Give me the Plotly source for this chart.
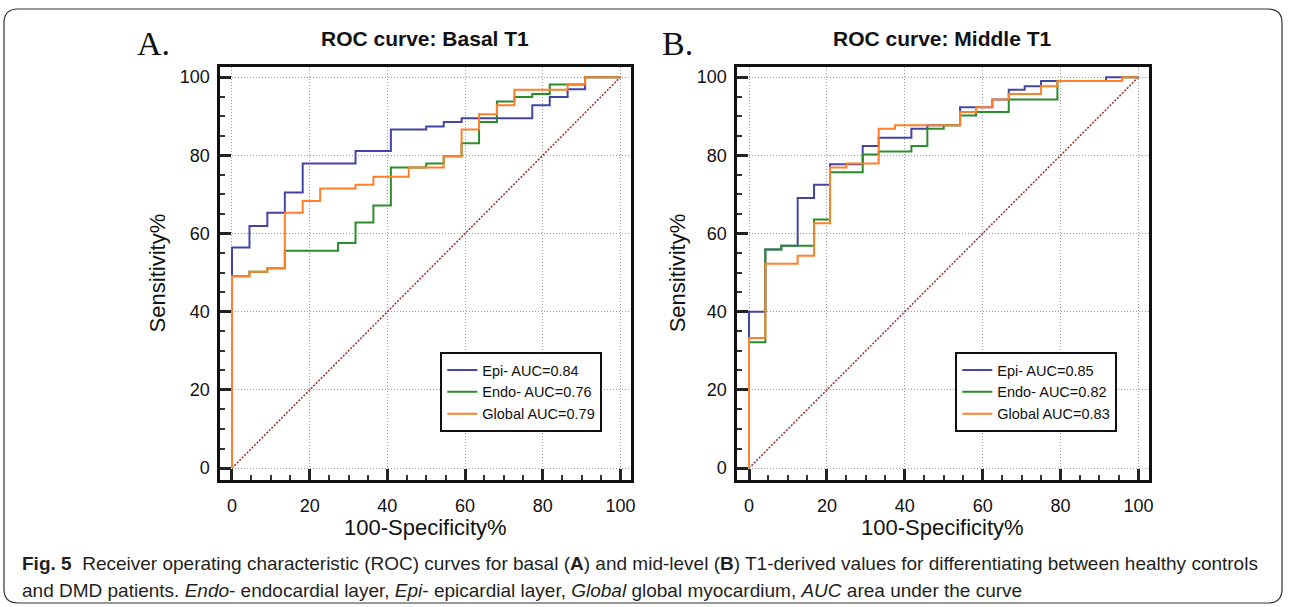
import plotly.graph_objects as go

# ROC operating points (100-Specificity%, Sensitivity%)
# A. basal T1
basal_epi_fpr = [0, 0, 4.5, 9.1, 13.6, 18.2, 31.8, 40.9, 50.0, 54.5, 59.1, 77.3, 81.8, 86.4, 90.9, 100]
basal_epi_tpr = [0, 56.4, 61.9, 65.3, 70.5, 77.9, 81.1, 86.6, 87.4, 88.5, 89.5, 92.8, 94.9, 96.9, 100, 100]

basal_endo_fpr = [0, 0, 4.5, 9.1, 13.6, 27.3, 31.8, 36.4, 40.9, 50.0, 54.5, 59.1, 63.6, 68.2, 72.7, 77.3, 81.8, 90.9, 100]
basal_endo_tpr = [0, 49.1, 50.2, 51.1, 55.6, 57.6, 62.8, 67.2, 76.9, 77.9, 79.8, 83.1, 88.5, 93.8, 94.9, 95.7, 98.1, 100, 100]

basal_glob_fpr = [0, 0, 4.5, 9.1, 13.6, 18.2, 22.7, 31.8, 36.4, 45.5, 54.5, 59.1, 63.6, 68.2, 72.7, 86.4, 90.9, 100]
basal_glob_tpr = [0, 49.1, 50.2, 51.1, 65.3, 68.3, 71.5, 72.5, 74.5, 76.9, 79.8, 86.6, 90.5, 92.8, 96.8, 98.1, 100, 100]

# B. middle T1
mid_epi_fpr = [0, 0, 4.2, 8.3, 12.5, 16.7, 20.8, 29.2, 33.3, 41.7, 45.8, 54.2, 62.5, 66.7, 70.8, 75.0, 91.7, 100]
mid_epi_tpr = [0, 40.0, 55.9, 56.9, 69.1, 72.5, 77.7, 82.4, 84.5, 86.8, 87.7, 92.3, 94.3, 96.8, 97.7, 99.0, 100, 100]

mid_endo_fpr = [0, 0, 4.2, 8.3, 16.7, 20.8, 29.2, 33.3, 41.7, 45.8, 50.0, 54.2, 58.3, 66.7, 79.2, 95.8, 100]
mid_endo_tpr = [0, 32.2, 55.9, 56.9, 63.6, 75.7, 80.2, 81.0, 82.4, 86.8, 87.7, 90.2, 91.1, 94.3, 99.0, 100, 100]

mid_glob_fpr = [0, 0, 4.2, 12.5, 16.7, 20.8, 25.0, 33.3, 37.5, 54.2, 58.3, 62.5, 66.7, 75.0, 79.2, 95.8, 100]
mid_glob_tpr = [0, 33.3, 52.3, 54.3, 62.6, 76.9, 77.9, 86.8, 87.7, 91.1, 92.3, 94.3, 95.7, 97.7, 99.0, 100, 100]

basal_auc = {"Epi-": 0.84, "Endo-": 0.76, "Global": 0.79}
mid_auc = {"Epi-": 0.85, "Endo-": 0.82, "Global": 0.83}

ticks = [0, 20, 40, 60, 80, 100]
ref_line = [0, 100]

colors = {"Epi-": "#4444a6", "Endo-": "#2a8c2a", "Global": "#ff7f2a"}

W, H = 1290, 607


def px_x(p):
    return p / W


def px_y(p):
    return 1 - p / H


fig = go.Figure()

panels = [
    ("x", "y", "legend", basal_auc,
     [(basal_epi_fpr, basal_epi_tpr), (basal_endo_fpr, basal_endo_tpr), (basal_glob_fpr, basal_glob_tpr)]),
    ("x2", "y2", "legend2", mid_auc,
     [(mid_epi_fpr, mid_epi_tpr), (mid_endo_fpr, mid_endo_tpr), (mid_glob_fpr, mid_glob_tpr)]),
]

for xa, ya, leg, auc, curves in panels:
    fig.add_trace(go.Scatter(x=ref_line, y=ref_line, mode="lines", xaxis=xa, yaxis=ya,
                             line=dict(color="#9a3030", width=1.5, dash="2px,1.5px"),
                             showlegend=False, hoverinfo="skip"))
    for (name, a), (fx, ty) in zip(auc.items(), curves):
        fig.add_trace(go.Scatter(x=fx, y=ty, mode="lines", line_shape="hv", xaxis=xa, yaxis=ya,
                                 name=f"{name} AUC={a:.2f}", legend=leg,
                                 line=dict(color=colors[name], width=2)))

axis_common = dict(
    range=[-3.05, 102.6], tickvals=ticks, showgrid=True, gridcolor="#9a9a9a", griddash="1px,2px",
    gridwidth=1, zeroline=False, showline=True, linecolor="#111", linewidth=2.5, mirror=True,
    ticks="inside", ticklen=11, tickwidth=3, tickcolor="#222",
    minor=dict(dtick=5, tick0=0, ticks="inside", ticklen=5, tickwidth=2, tickcolor="#333", showgrid=False),
    tickfont=dict(family="Liberation Sans, Arial", size=18, color="#111"),
    fixedrange=True,
)

ydom = [px_y(480), px_y(67)]
fig.update_layout(
    width=W, height=H, margin=dict(l=0, r=0, t=0, b=0),
    paper_bgcolor="white", plot_bgcolor="white",
    xaxis=dict(domain=[px_x(221), px_x(633)], anchor="y", ticklabelstandoff=8, **axis_common),
    yaxis=dict(domain=ydom, anchor="x", ticklabelstandoff=4, **axis_common),
    xaxis2=dict(domain=[px_x(740), px_x(1153)], anchor="y2", ticklabelstandoff=8, **axis_common),
    yaxis2=dict(domain=ydom, anchor="x2", ticklabelstandoff=4, **axis_common),
)

legend_common = dict(
    xanchor="left", yanchor="top", bgcolor="white", bordercolor="#111", borderwidth=2,
    font=dict(family="Liberation Sans, Arial", size=14.5, color="#111"),
    tracegroupgap=0, itemwidth=30,
)
fig.update_layout(
    legend=dict(x=px_x(442), y=px_y(352), **legend_common),
    legend2=dict(x=px_x(959), y=px_y(352), **legend_common),
)

ann = []
title_font = dict(family="Liberation Sans, Arial", size=21, color="#111")
axis_font = dict(family="Liberation Sans, Arial", size=22, color="#111")
ann.append(dict(text="<b>ROC curve: Basal T1</b>", x=px_x(427), y=px_y(38), font=title_font))
ann.append(dict(text="<b>ROC curve: Middle T1</b>", x=px_x(946), y=px_y(38), font=title_font))
ann.append(dict(text="A.", x=px_x(154), y=px_y(43), font=dict(family="Liberation Serif, Times New Roman", size=34, color="#111")))
ann.append(dict(text="B.", x=px_x(680), y=px_y(43), font=dict(family="Liberation Serif, Times New Roman", size=34, color="#111")))
ann.append(dict(text="Sensitivity%", x=px_x(158), y=px_y(273), textangle=-90, font=axis_font))
ann.append(dict(text="Sensitivity%", x=px_x(680), y=px_y(273), textangle=-90, font=axis_font))
ann.append(dict(text="100-Specificity%", x=px_x(427), y=px_y(527), font=axis_font))
ann.append(dict(text="100-Specificity%", x=px_x(946), y=px_y(527), font=axis_font))

cap_font = dict(family="Liberation Sans, Arial", size=19, color="#231f20")
ann.append(dict(text="<b>Fig. 5</b>  Receiver operating characteristic (ROC) curves for basal (<b>A</b>) and mid-level (<b>B</b>) "
                     "T1-derived values for differentiating between healthy controls",
                x=px_x(20), y=px_y(563), xanchor="left", font=cap_font))
ann.append(dict(text="and DMD patients. <i>Endo</i>- endocardial layer, <i>Epi</i>- epicardial layer, "
                     "<i>Global</i> global myocardium, <i>AUC</i> area under the curve",
                x=px_x(20), y=px_y(590), xanchor="left", font=cap_font))

for a in ann:
    a.setdefault("xanchor", "center")
    a.update(xref="paper", yref="paper", yanchor="middle", showarrow=False)
fig.update_layout(annotations=ann)

# rounded frame around the whole figure
x0, y0, x1, y1, r = px_x(4), px_y(9), px_x(1287), px_y(603), 14
rx, ry = r / W, r / H
path = (f"M {x0 + rx},{y0} L {x1 - rx},{y0} Q {x1},{y0} {x1},{y0 - ry} "
        f"L {x1},{y1 + ry} Q {x1},{y1} {x1 - rx},{y1} L {x0 + rx},{y1} Q {x0},{y1} {x0},{y1 + ry} "
        f"L {x0},{y0 - ry} Q {x0},{y0} {x0 + rx},{y0} Z")
fig.add_shape(type="path", path=path, xref="paper", yref="paper", line=dict(color="#333", width=1.2), layer="below")

# drop the default 8px page margin so the figure sits at the window origin
fig.write_html("out.html", config={"displayModeBar": False},
               post_script="document.body.style.margin='0';")
